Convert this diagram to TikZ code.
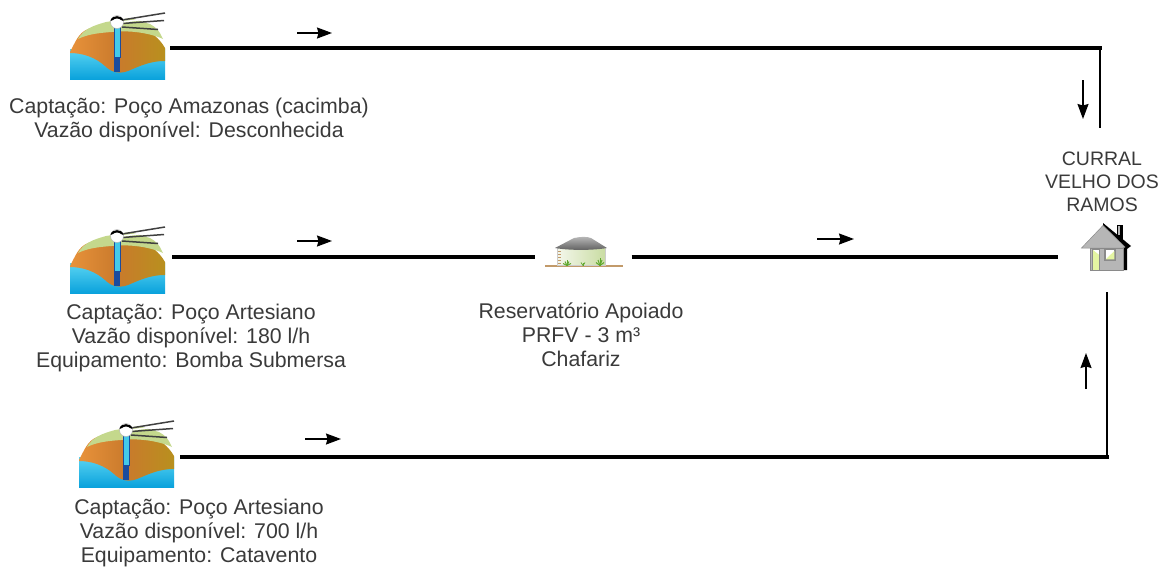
\documentclass[tikz,border=0pt]{standalone}
\usepackage{fontspec}
\setmainfont{Liberation Sans}
\usetikzlibrary{arrows.meta,calc}

\definecolor{txtgray}{HTML}{3A3A3A}
\definecolor{watertop}{HTML}{5AD4F2}
\definecolor{waterbot}{HTML}{0AA2DC}
\definecolor{earthL}{HTML}{E8923A}
\definecolor{earthM}{HTML}{C97A2C}
\definecolor{earthR}{HTML}{B8901E}
\definecolor{grasstop}{HTML}{C4D88C}
\definecolor{pipecyan}{HTML}{44CAEA}
\definecolor{pipedark}{HTML}{1B4C9E}
\definecolor{roofdark}{HTML}{5E5E5E}
\definecolor{roofligt}{HTML}{B8B8B8}
\definecolor{tankL}{HTML}{F4F7EC}
\definecolor{tankR}{HTML}{C9DCA2}
\definecolor{soil}{HTML}{C29A6A}
\definecolor{tuft}{HTML}{5FA82E}
\definecolor{housegray}{HTML}{B6B6B6}
\definecolor{houseedge}{HTML}{8A8A8A}
\definecolor{doorgreen}{HTML}{E4F5A2}

\tikzset{
  caption/.style={font=\fontsize{21.3}{23.6}\selectfont, text=txtgray, align=center, inner sep=0pt, anchor=base},
  placetext/.style={font=\fontsize{19.5}{23}\selectfont, text=txtgray, align=center, inner sep=0pt, anchor=base},
  iconbox/.style={inner sep=0pt, minimum height=68pt},
  pipe/.style={line width=4.2pt, black},
  riser/.style={line width=2pt, black},
  flowarrow/.style={line width=1.4pt, -{Stealth[length=15pt,width=11pt,inset=1.5pt]}},
  % well with drilled pipe, 95 x 68, origin at top left
  well/.pic={
    \fill[top color=watertop, bottom color=waterbot] (0,38) rectangle (95,68);
    \shade[left color=earthL, right color=earthR, middle color=earthM]
      (0,41) .. controls (5,32) and (8,22) .. (18,18) -- (40,11) -- (66,13)
      .. controls (80,19) and (90,28) .. (95,37) -- (95,50)
      .. controls (80,50) and (70,55) .. (58,60)
      .. controls (50,63) and (42,62) .. (35,55)
      .. controls (25,46) and (12,42) .. (0,42) -- cycle;
    \fill[grasstop]
      (8,28) .. controls (14,18) and (22,15) .. (36,11) -- (60,7) -- (80,13)
      .. controls (88,18) .. (93,28)
      .. controls (80,22) and (60,19) .. (42,21)
      .. controls (26,22) and (16,24) .. (8,28) -- cycle;
    \draw[black!75, line width=1.5pt] (52,9) -- (95,2);
    \draw[black!75, line width=1.5pt] (52,12.5) -- (94,9.5);
    \draw[black!75, line width=1.5pt] (52,16) -- (88,18.5);
    \draw[white, line width=1.5pt] (53,10.8) -- (95,5.8);
    \fill[pipecyan, draw=pipedark, line width=0.6pt] (44,14) rectangle (50,46);
    \fill[pipedark] (44,46) rectangle (50,61);
    \fill[white, draw=gray!60, line width=0.4pt] (47,11) circle (6.5);
    \fill[black] (40.5,10) .. controls (41,3.5) and (53,3.5) .. (53.5,10) -- (51,9) .. controls (49,7) and (45,7) .. (43,9) -- cycle;
  },
  % ground-level storage tank, 80 x 31, origin at top left
  tank/.pic={
    \draw[soil, line width=1.6pt] (2,29) -- (80,29);
    \shade[left color=tankL, right color=tankR, draw=gray!40, line width=0.4pt]
      (14,10) -- (14,28) -- (62,28) -- (62,10) -- cycle;
    \foreach \yy in {14,17,20,23,26}
      \draw[soil, line width=0.8pt] (15,\yy) -- (18,\yy);
    \shade[top color=roofligt, bottom color=roofdark]
      (12,11) -- (31,1) .. controls (38,-0.5) and (44,-0.5) .. (48,1) -- (64,11)
      .. controls (50,13.5) and (26,13.5) .. (12,11) -- cycle;
    \foreach \dx/\dy in {-4/-2,-2/-4,0/-6,2/-4,4/-2}
      \draw[tuft, line width=1pt] (24,28.5) -- ++(\dx,\dy);
    \foreach \dx/\dy in {-4/-3,-2/-5.5,0/-8,2/-5.5,4/-3}
      \draw[tuft, line width=1pt] (57,28.5) -- ++(\dx,\dy);
    \foreach \dx in {-2,0,2}
      \draw[tuft, line width=0.8pt] (40,28.5) -- ++(\dx,-3);
  },
  % small house, 52 x 47, origin at top left
  house/.pic={
    \fill[black] (23,0) -- (51,23) -- (47,26) -- (47,47) -- (43,47) -- (43,24) -- (23,5) -- cycle;
    \fill[black] (37,2) rectangle (43,16);
    \fill[housegray] (37.5,3) rectangle (40,12);
    \fill[housegray, draw=houseedge, line width=0.5pt] (1.5,25) -- (23,2.5) -- (45,24) -- (43,25) -- cycle;
    \fill[housegray, draw=houseedge, line width=0.5pt] (10,25) rectangle (43,47);
    \fill[doorgreen] (12,26) rectangle (19.5,47);
    \fill[white] (12,26) -- (19.5,26) -- (19.5,32) -- cycle;
    \draw[houseedge, line width=0.5pt] (12,26) rectangle (19.5,47);
    \fill[white, draw=houseedge, line width=1.2pt] (25,26.5) rectangle (35,37);
    \fill[doorgreen] (25.6,36.4) -- (34.4,36.4) -- (34.4,28) -- cycle;
  }
}

\begin{document}
\begin{tikzpicture}[x=1pt, y=-1pt]
\useasboundingbox (0,0) rectangle (1163,568);

% icons
\pic at (70,11) {well};
\pic at (70,225) {well};
\pic at (79,419) {well};
\pic at (543,237) {tank};
\pic at (1080,223) {house};

% anchor boxes for the pipelines
\node[iconbox, minimum width=95pt, outer xsep=7pt] (w1) at (117.5,48) {};
\node[iconbox, minimum width=95pt, outer xsep=7pt] (w2) at (117.5,257) {};
\node[iconbox, minimum width=95pt, outer xsep=7pt] (w3) at (127.5,457) {};
\node[inner sep=0pt, minimum width=80pt, minimum height=31pt, outer xsep=8.5pt] (res) at (583,257) {};
\node[inner sep=0pt, minimum width=52pt, minimum height=47pt, outer xsep=22pt] (home) at (1106,257) {};

\coordinate (k1) at (1100,48);
\coordinate (e1) at (1100,128);
\coordinate (k3) at (1107,457);
\coordinate (e3) at (1107,292);

% pipelines
\draw[pipe, line cap=rect] (w1.east) -- (k1);
\draw[riser] (k1) -- (e1);
\draw[pipe] (w2.east) -- (res.west);
\draw[pipe] (res.east) -- (home.west);
\draw[pipe, line cap=rect] (w3.east) -- (k3);
\draw[riser] (k3) -- (e3);

% flow directions
\draw[flowarrow] (297,33) -- (332,33);
\draw[flowarrow] (297,241) -- (332,241);
\draw[flowarrow] (817,239) -- (854,239);
\draw[flowarrow] (305,439) -- (341,439);
\draw[flowarrow] (1083,80) -- (1083,119);
\draw[flowarrow] (1086,389) -- (1086,353);

% labels (base = baseline of the last line)
\node[caption] (t1) at (189,137) {Captação: Poço Amazonas (cacimba)\\Vazão disponível: Desconhecida};
\node[caption] (t2) at (191,367) {Captação: Poço Artesiano\\Vazão disponível: 180 l/h\\Equipamento: Bomba Submersa};
\node[caption] (t3) at (199,562) {Captação: Poço Artesiano\\Vazão disponível: 700 l/h\\Equipamento: Catavento};
\node[caption] (tr) at (581,366) {Reservatório Apoiado\\PRFV - 3 m³\\Chafariz};
\node[placetext] (tc) at (1102,211) {CURRAL\\VELHO DOS\\RAMOS};
\end{tikzpicture}
\end{document}
